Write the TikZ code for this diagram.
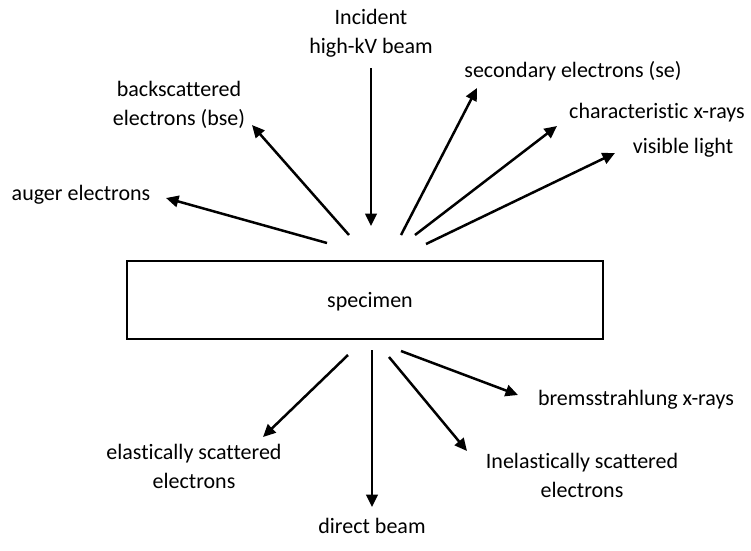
\documentclass[tikz,border=0pt]{standalone}
\usepackage{fontspec}
\setmainfont{Carlito}[Ligatures=NoCommon]
\usetikzlibrary{arrows.meta}
\begin{document}
\begin{tikzpicture}[x=1pt,y=-1pt,
  lbl/.style={font=\fontsize{22}{28.5}\selectfont, inner sep=0pt, align=center, anchor=base},
  ray/.style={line width=2.5pt, -{Triangle[length=12.5pt,width=11.5pt]}},
  boxstyle/.style={draw, line width=1.8pt, minimum width=476.6pt, minimum height=77.7pt, inner sep=0pt}]
\useasboundingbox (0,0) rectangle (751,550);
% specimen
\node[boxstyle] (spec) at (365,300) {};
\node[lbl] (spectext) at (370,307) {specimen};
% labels (base = baseline of the last line)
\node[lbl] (inc) at (371,53) {Incident\\high-kV beam};
\node[lbl] (bse) at (179,125) {backscattered\\electrons (bse)};
\node[lbl] (auger) at (81,200) {auger electrons};
\node[lbl] (se) at (573,77) {secondary electrons (se)};
\node[lbl] (char) at (657,118) {characteristic x-rays};
\node[lbl] (vis) at (683,153) {visible light};
\node[lbl] (brems) at (636,405) {bremsstrahlung x-rays};
\node[lbl] (el) at (194,488) {elastically scattered\\electrons};
\node[lbl] (inel) at (582,497) {Inelastically scattered\\electrons};
\node[lbl] (direct) at (372,533) {direct beam};
% connector end points
\coordinate (incS) at (371,68);   \coordinate (incE) at (371,226);
\coordinate (bseS) at (349,235);  \coordinate (bseE) at (252,125);
\coordinate (augS) at (327,243);  \coordinate (augE) at (166,198);
\coordinate (seS) at (401,235);   \coordinate (seE) at (477,88);
\coordinate (chS) at (415,235);   \coordinate (chE) at (557,126);
\coordinate (visS) at (426,244);  \coordinate (visE) at (615,153);
\coordinate (elS) at (348,355);   \coordinate (elE) at (263,437);
\coordinate (dirS) at (372,350);  \coordinate (dirE) at (372,507);
\coordinate (inS) at (389,357);   \coordinate (inE) at (467,451);
\coordinate (brS) at (401,351);   \coordinate (brE) at (518,395);
% connectors
\draw[ray] (incS) -- (incE);
\draw[ray] (bseS) -- (bseE);
\draw[ray] (augS) -- (augE);
\draw[ray] (seS) -- (seE);
\draw[ray] (chS) -- (chE);
\draw[ray] (visS) -- (visE);
\draw[ray] (elS) -- (elE);
\draw[ray] (dirS) -- (dirE);
\draw[ray] (inS) -- (inE);
\draw[ray] (brS) -- (brE);
\end{tikzpicture}
\end{document}
